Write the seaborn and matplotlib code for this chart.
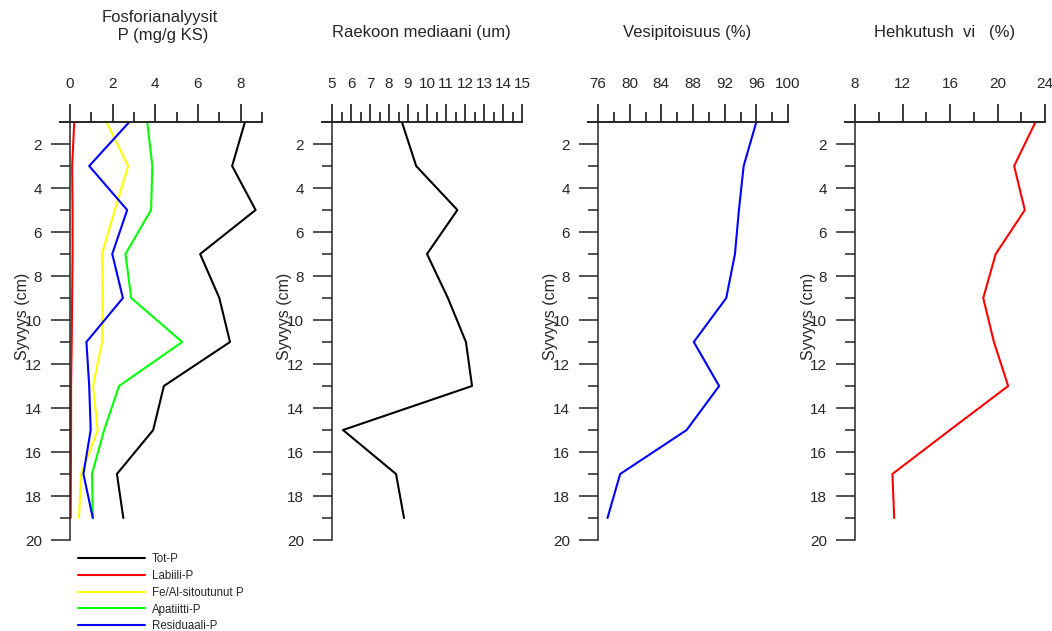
import pandas as pd
import seaborn as sns
import matplotlib.pyplot as plt
from matplotlib.ticker import MultipleLocator, FixedLocator

####Data
syvyys = [1, 3, 5, 7, 9, 11, 13, 15, 17, 19]
tot_p = [8.2, 7.6, 8.7, 6.1, 7.0, 7.5, 4.4, 3.9, 2.2, 2.5]
labiili_p = [0.2, 0.1, 0.12, 0.12, 0.1, 0.08, 0.05, 0.05, 0.04, 0.03]
feal_p = [1.7, 2.73, 2.1, 1.5, 1.53, 1.5, 1.08, 1.3, 0.52, 0.42]
apatiitti_p = [3.62, 3.86, 3.8, 2.6, 2.87, 5.26, 2.3, 1.6, 1.03, 1.07]
residuaali_p = [2.78, 0.9, 2.68, 1.98, 2.48, 0.77, 0.9, 0.97, 0.63, 1.07]
raekoko = [8.68, 9.43, 11.6, 10.0, 11.1, 12.05, 12.37, 5.58, 8.37, 8.79]
vesipitoisuus = [96.0, 94.4, 93.8, 93.3, 92.2, 88.1, 91.3, 87.2, 78.8, 77.2]
hehkutushavio = [23.2, 21.4, 22.3, 19.85, 18.8, 19.7, 20.9, 16.0, 11.15, 11.3]

fraktiot = ["Tot-P", "Labiili-P", "Fe/Al-sitoutunut P", "Apatiitti-P", "Residuaali-P"]
varit = {"Tot-P": "#000000", "Labiili-P": "#ff0000", "Fe/Al-sitoutunut P": "#ffff00",
         "Apatiitti-P": "#00ff00", "Residuaali-P": "#0000ff"}

####Long table for the phosphorus panel
p_df = pd.DataFrame({"syvyys": syvyys, "Tot-P": tot_p, "Labiili-P": labiili_p,
                     "Fe/Al-sitoutunut P": feal_p, "Apatiitti-P": apatiitti_p,
                     "Residuaali-P": residuaali_p})
p_long = p_df.melt(id_vars="syvyys", var_name="fraktio", value_name="P")
muut = pd.DataFrame({"syvyys": syvyys, "raekoko": raekoko,
                     "vesi": vesipitoisuus, "hehku": hehkutushavio})

sns.set_style("ticks")
plt.rcParams['font.family'] = ['Liberation Sans', 'DejaVu Sans']

W, H = 1052, 631
fig = plt.figure(figsize=(W / 100, H / 100), dpi=100)


def paneeli(left, right):
    return fig.add_axes([left / W, (H - 540) / H, (right - left) / W, 418 / H])


def muotoile(ax, xlim, major, minor, title, title_y):
    ax.set_xlim(xlim)
    ax.set_ylim(20, 1)
    ax.xaxis.tick_top()
    ax.xaxis.set_major_locator(MultipleLocator(major))
    ax.xaxis.set_minor_locator(MultipleLocator(minor))
    ax.yaxis.set_major_locator(MultipleLocator(2))
    ax.yaxis.set_minor_locator(FixedLocator([3, 5, 7, 9, 11, 13, 15, 17, 19]))
    ax.tick_params(axis='x', which='major', direction='out', length=13, width=1.3,
                   pad=9, labelsize=11)
    ax.tick_params(axis='x', which='minor', direction='out', length=7, width=1.3)
    ax.tick_params(axis='y', which='major', direction='out', length=14, width=1.1,
                   pad=6, labelsize=11)
    ax.tick_params(axis='y', which='minor', direction='out', length=7, width=1.1)
    for s in ['right', 'bottom']:
        ax.spines[s].set_visible(False)
    ax.spines['top'].set_linewidth(1.4)
    ax.spines['left'].set_linewidth(1.1)
    bbox_w = ax.get_position().width * W
    px = (xlim[1] - xlim[0]) / bbox_w
    ax.spines['top'].set_bounds(xlim[0] - 10 * px, xlim[1])
    ax.set_xlabel('')
    # the depth label sits over the tick labels, as in the original
    ax.set_ylabel('Syvyys (cm)', fontsize=11.5, va='center')
    ax.yaxis.set_label_coords(-47 / bbox_w, 0.536)
    ax.text(0.47, title_y, title, transform=ax.transAxes, ha='center', va='center',
            fontsize=12, multialignment='center')


####Panel 1 phosphorus fractions
ax1 = paneeli(70, 262)
sns.lineplot(data=p_long, x="P", y="syvyys", hue="fraktio", hue_order=fraktiot,
             palette=varit, orient='y', estimator=None, linewidth=1.5, ax=ax1)
handles, labels = ax1.get_legend_handles_labels()
ax1.get_legend().remove()
muotoile(ax1, (0, 9), 2, 1, "Fosforianalyysit\n P (mg/g KS)", 1.228)

####Panel 2 grain size
ax2 = paneeli(332, 522)
sns.lineplot(data=muut, x="raekoko", y="syvyys", orient='y', estimator=None,
             color='black', linewidth=1.5, ax=ax2)
muotoile(ax2, (5, 15), 1, 0.5, "Raekoon mediaani (um)", 1.215)

####Panel 3 water content
ax3 = paneeli(598, 788)
sns.lineplot(data=muut, x="vesi", y="syvyys", orient='y', estimator=None,
             color='#0000ff', linewidth=1.5, ax=ax3)
muotoile(ax3, (76, 100), 4, 2, "Vesipitoisuus (%)", 1.215)

####Panel 4 loss on ignition
ax4 = paneeli(855, 1045)
sns.lineplot(data=muut, x="hehku", y="syvyys", orient='y', estimator=None,
             color='#ff0000', linewidth=1.5, ax=ax4)
muotoile(ax4, (8, 24), 4, 2, "Hehkutush  vi   (%)", 1.215)

####Legend below first panel
fig.legend(handles, labels, loc='upper left', bbox_to_anchor=(78 / W, 1 - 553 / H),
           frameon=False, fontsize=8.3, handlelength=5.8, handletextpad=0.6,
           labelspacing=0.42, borderpad=0, borderaxespad=0)

plt.savefig("out.png", dpi=100)
